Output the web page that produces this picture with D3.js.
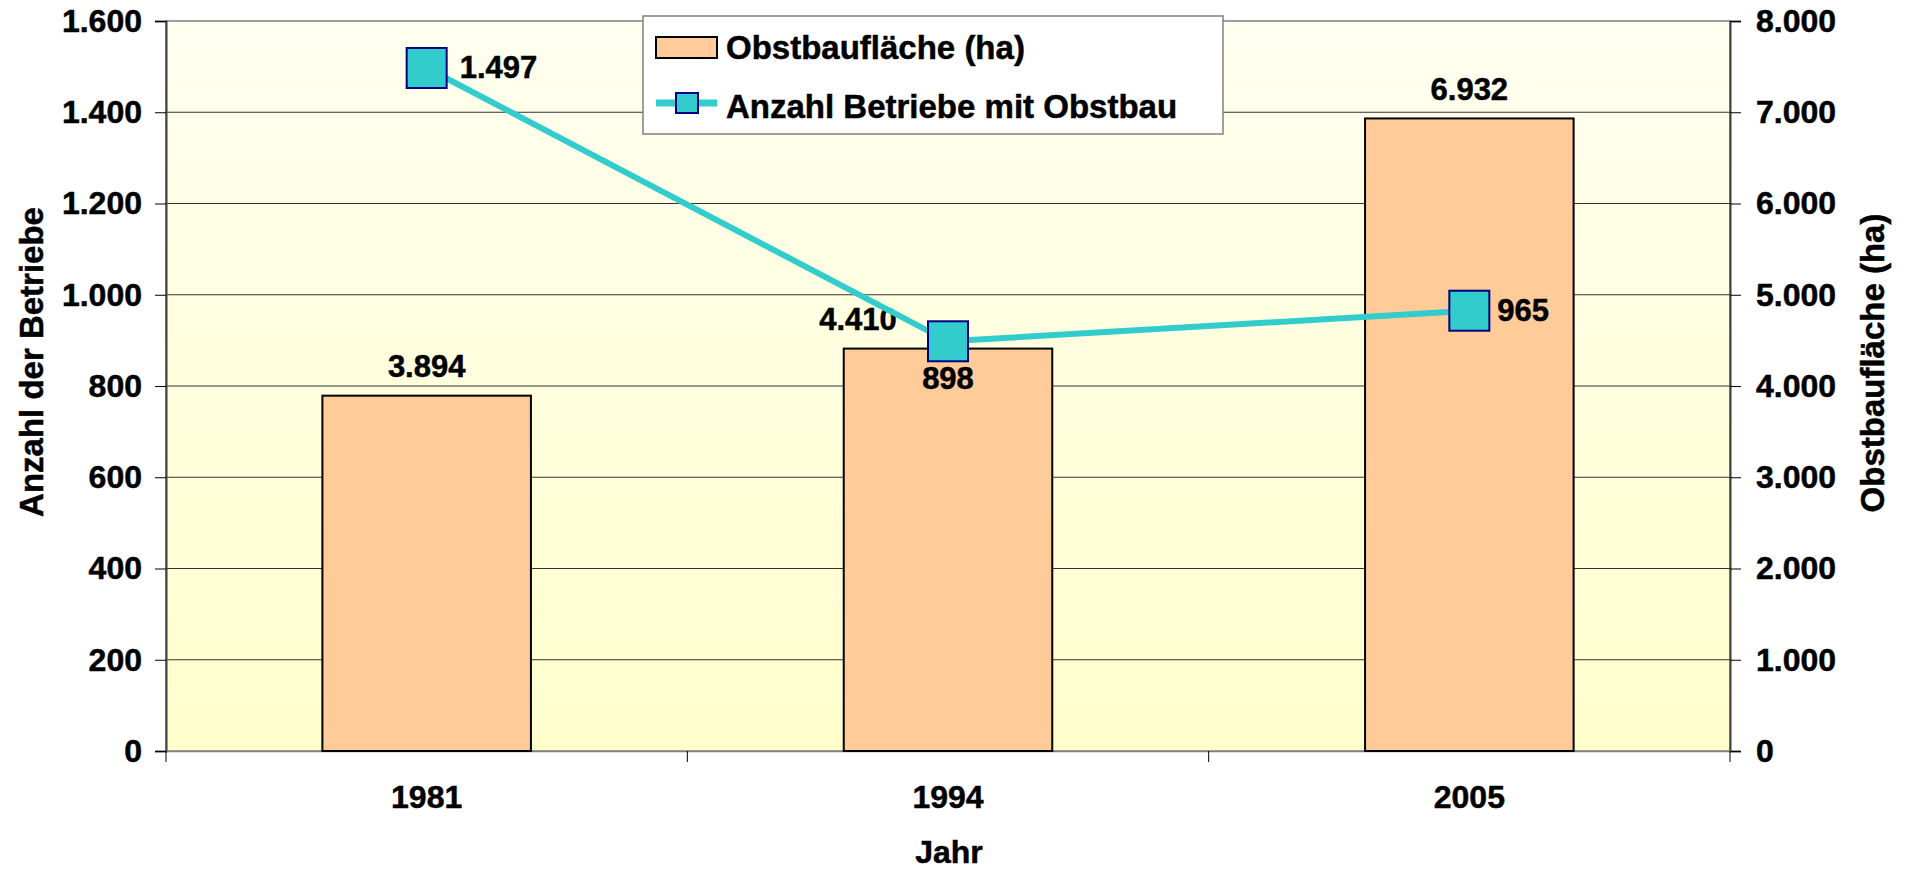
<!DOCTYPE html>
<html>
<head>
<meta charset="utf-8">
<script src="https://cdn.jsdelivr.net/npm/d3@7"></script>
<style>
  body { margin: 0; background: #fff; }
  text { font-family: "Liberation Sans", Arial, sans-serif; font-weight: bold; fill: #000;
         stroke: #000; stroke-width: 0.5px; }
</style>
</head>
<body>
<script>
const years = ['1981', '1994', '2005'];
const flaeche = [3894, 4410, 6932];      // Obstbaufläche (ha), right axis
const betriebe = [1497, 898, 965];       // Anzahl Betriebe, left axis
const leftTicks = [0, 200, 400, 600, 800, 1000, 1200, 1400, 1600];
const rightTicks = [0, 1000, 2000, 3000, 4000, 5000, 6000, 7000, 8000];

const width = 1908;
const height = 869;
const margin = { top: 21, right: 178, bottom: 118, left: 166 };
const innerW = width - margin.left - margin.right;
const innerH = height - margin.top - margin.bottom;

const fmt = d3.formatLocale({ decimal: ',', thousands: '.', grouping: [3], currency: ['', '€'] }).format(',d');

const svg = d3.select('body')
    .append('svg')
    .attr('width', width)
    .attr('height', height);

const defs = svg.append('defs');
const grad = defs.append('linearGradient')
    .attr('id', 'bg')
    .attr('x1', 0).attr('y1', 0).attr('x2', 0).attr('y2', 1);
grad.append('stop').attr('offset', '0%').attr('stop-color', '#FFFFF0');
grad.append('stop').attr('offset', '100%').attr('stop-color', '#FFFFCC');

const g = svg.append('g')
    .attr('transform', `translate(${margin.left}, ${margin.top})`);

const xScale = d3.scaleBand()
    .domain(years)
    .range([0, innerW]);

const yLeft = d3.scaleLinear().domain([0, 1600]).range([innerH, 0]);
const yRight = d3.scaleLinear().domain([0, 8000]).range([innerH, 0]);

// plot background
g.append('rect')
    .attr('width', innerW)
    .attr('height', innerH)
    .attr('fill', 'url(#bg)')
    .attr('stroke', '#808080')
    .attr('stroke-width', 1.5);

// grid lines
g.selectAll('.grid')
    .data(leftTicks.slice(1, -1))
    .enter()
    .append('line')
    .attr('x1', 0)
    .attr('x2', innerW)
    .attr('y1', d => yLeft(d))
    .attr('y2', d => yLeft(d))
    .attr('stroke', '#333')
    .attr('stroke-width', 1);

// left axis
const yAxisL = d3.axisLeft(yLeft).tickValues(leftTicks).tickSize(11).tickPadding(13).tickFormat(fmt);
const gl = g.append('g').call(yAxisL);
gl.select('.domain').attr('stroke', '#404040').attr('stroke-width', 2);
gl.selectAll('.tick line').attr('stroke', '#000');
gl.selectAll('text').style('font-size', '32px');

// right axis
const yAxisR = d3.axisRight(yRight).tickValues(rightTicks).tickSize(11).tickPadding(15).tickFormat(fmt);
const gr = g.append('g').attr('transform', `translate(${innerW}, 0)`).call(yAxisR);
gr.select('.domain').attr('stroke', '#404040').attr('stroke-width', 2);
gr.selectAll('.tick line').attr('stroke', '#000');
gr.selectAll('text').style('font-size', '32px');

// bottom axis with ticks at category boundaries
const xAxis = d3.axisBottom(xScale).tickSize(0).tickPadding(34);
const gx = g.append('g').attr('transform', `translate(0, ${innerH})`).call(xAxis);
gx.select('.domain').attr('stroke', '#808080').attr('stroke-width', 1.5);
gx.selectAll('text').style('font-size', '32px');
gx.selectAll('.sep')
    .data(years.map(d => xScale(d)).concat([innerW]))
    .enter()
    .append('line')
    .attr('x1', d => d).attr('x2', d => d)
    .attr('y1', 0).attr('y2', 11)
    .attr('stroke', '#000');

// bars
const barW = xScale.bandwidth() * 0.4;
g.selectAll('.bar')
    .data(years)
    .enter()
    .append('rect')
    .attr('x', d => xScale(d) + (xScale.bandwidth() - barW) / 2)
    .attr('y', (d, i) => yRight(flaeche[i]))
    .attr('width', barW)
    .attr('height', (d, i) => innerH - yRight(flaeche[i]))
    .attr('fill', '#FFCC99')
    .attr('stroke', '#000')
    .attr('stroke-width', 2);

// bar labels
const barLabelDx = [0, -90, 0];
g.selectAll('.barlabel')
    .data(years)
    .enter()
    .append('text')
    .attr('x', (d, i) => xScale(d) + xScale.bandwidth() / 2 + barLabelDx[i])
    .attr('y', (d, i) => yRight(flaeche[i]) - 29)
    .attr('text-anchor', 'middle')
    .attr('dominant-baseline', 'central')
    .style('font-size', '31px')
    .text((d, i) => fmt(flaeche[i]));

// line
const cx = d => xScale(d) + xScale.bandwidth() / 2;
const line = d3.line()
    .x(d => cx(d))
    .y((d, i) => yLeft(betriebe[i]));
g.append('path')
    .datum(years)
    .attr('d', line)
    .attr('fill', 'none')
    .attr('stroke', '#33CCCC')
    .attr('stroke-width', 6);

const mk = 40;
g.selectAll('.marker')
    .data(years)
    .enter()
    .append('rect')
    .attr('x', d => cx(d) - mk / 2)
    .attr('y', (d, i) => yLeft(betriebe[i]) - mk / 2)
    .attr('width', mk)
    .attr('height', mk)
    .attr('fill', '#33CCCC')
    .attr('stroke', '#000080')
    .attr('stroke-width', 2);

// line labels
const lineLabelPos = [
    { dx: 33, dy: 0, anchor: 'start' },
    { dx: 0, dy: 37, anchor: 'middle' },
    { dx: 28, dy: 0, anchor: 'start' }
];
g.selectAll('.linelabel')
    .data(years)
    .enter()
    .append('text')
    .attr('x', (d, i) => cx(d) + lineLabelPos[i].dx)
    .attr('y', (d, i) => yLeft(betriebe[i]) + lineLabelPos[i].dy)
    .attr('text-anchor', (d, i) => lineLabelPos[i].anchor)
    .attr('dominant-baseline', 'central')
    .style('font-size', '31px')
    .text((d, i) => fmt(betriebe[i]));

// axis titles
svg.append('text')
    .attr('transform', `translate(31, 362) rotate(-90)`)
    .attr('text-anchor', 'middle')
    .attr('dominant-baseline', 'central')
    .style('font-size', '33px')
    .text('Anzahl der Betriebe');

svg.append('text')
    .attr('transform', `translate(1872, 363) rotate(-90)`)
    .attr('text-anchor', 'middle')
    .attr('dominant-baseline', 'central')
    .style('font-size', '33px')
    .text('Obstbaufläche (ha)');

svg.append('text')
    .attr('x', 949)
    .attr('y', 852)
    .attr('text-anchor', 'middle')
    .attr('dominant-baseline', 'central')
    .style('font-size', '32px')
    .text('Jahr');

// legend
const legend = svg.append('g').attr('transform', 'translate(643, 16)');
legend.append('rect')
    .attr('width', 580)
    .attr('height', 118)
    .attr('fill', '#fff')
    .attr('stroke', '#808080')
    .attr('stroke-width', 1.5);
legend.append('rect')
    .attr('x', 13).attr('y', 21)
    .attr('width', 61).attr('height', 21)
    .attr('fill', '#FFCC99')
    .attr('stroke', '#000')
    .attr('stroke-width', 2);
legend.append('line')
    .attr('x1', 13).attr('x2', 74)
    .attr('y1', 87).attr('y2', 87)
    .attr('stroke', '#33CCCC')
    .attr('stroke-width', 7);
legend.append('rect')
    .attr('x', 33).attr('y', 77)
    .attr('width', 22).attr('height', 20)
    .attr('fill', '#33CCCC')
    .attr('stroke', '#000080')
    .attr('stroke-width', 2);
legend.append('text')
    .attr('x', 83).attr('y', 43)
    .style('font-size', '33px')
    .text('Obstbaufläche (ha)');
legend.append('text')
    .attr('x', 83).attr('y', 102)
    .style('font-size', '33px')
    .text('Anzahl Betriebe mit Obstbau');
</script>
</body>
</html>
